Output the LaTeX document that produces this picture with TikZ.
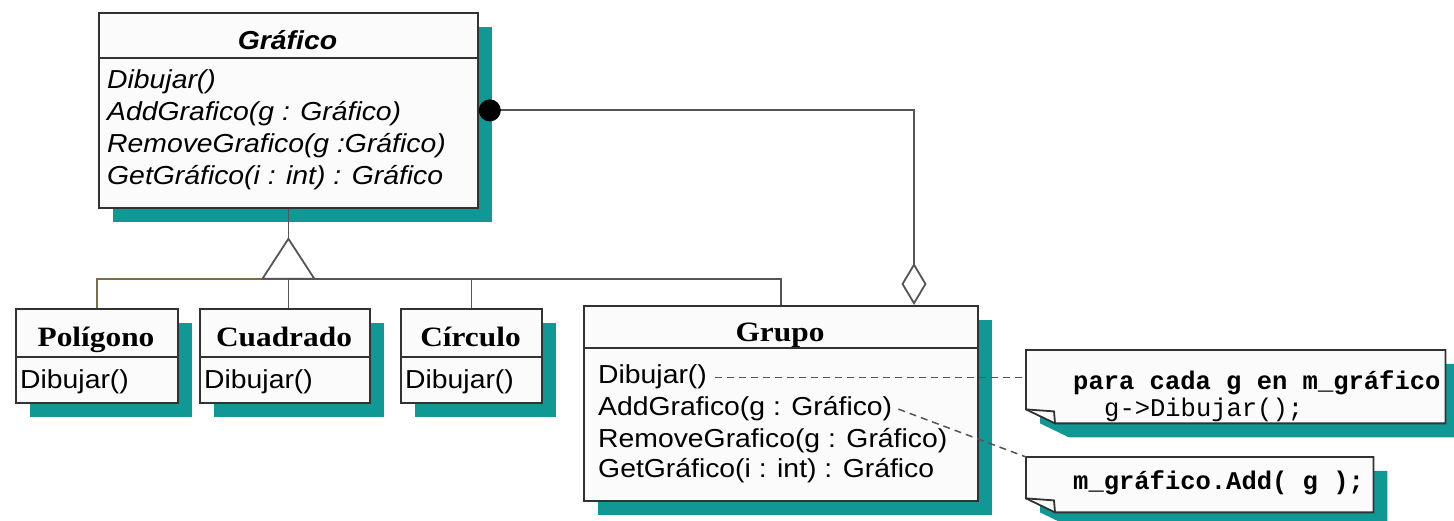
\documentclass[tikz,border=0pt]{standalone}
\usepackage{fontspec}
\usetikzlibrary{arrows.meta,calc,shadows}
\newfontfamily\uarial[FakeStretch=1.09]{Liberation Sans}
\newfontfamily\utimes[FakeStretch=1.12]{Liberation Serif}
\newfontfamily\ucour{Liberation Mono}
\definecolor{shteal}{RGB}{16,152,148}
\definecolor{edgec}{RGB}{50,50,50}
\definecolor{wirec}{RGB}{85,85,85}
\definecolor{olivec}{RGB}{128,108,64}
\definecolor{boxfill}{RGB}{251,251,251}
\begin{document}
\begin{tikzpicture}[x=1bp,y=1bp,
  cls/.style={draw=edgec, line width=1.8bp, fill=boxfill, anchor=north west, inner sep=0pt,
    general shadow={fill=shteal, shadow xshift=14bp, shadow yshift=-14bp}},
  divl/.style={draw=edgec, line width=1.8bp},
  notebox/.style={anchor=north west, inner sep=0pt},
  noteline/.style={draw=edgec, line width=1.8bp, line join=miter},
  ttl/.style={anchor=base, inner sep=0pt, font=\utimes\bfseries\fontsize{28bp}{32bp}\selectfont},
  attl/.style={anchor=base, inner sep=0pt, font=\uarial\bfseries\itshape\fontsize{26bp}{30bp}\selectfont},
  mth/.style={anchor=base west, inner sep=0pt, font=\uarial\fontsize{26bp}{30bp}\selectfont},
  amth/.style={anchor=base west, inner sep=0pt, font=\uarial\itshape\fontsize{26bp}{30bp}\selectfont},
  code/.style={anchor=base west, inner sep=0pt, font=\ucour\fontsize{25.5bp}{30bp}\selectfont},
  codeb/.style={anchor=base west, inner sep=0pt, font=\ucour\bfseries\fontsize{25.5bp}{30bp}\selectfont},
  wire/.style={draw=wirec, line width=1.8bp},
  dashwire/.style={draw=wirec, line width=1.5bp, dash pattern=on 7bp off 5bp}
]
\fill[white] (0,0) rectangle (1454,521);
\useasboundingbox (0,0) rectangle (1454,521);

% class boxes
\node[cls, minimum width=379bp, minimum height=195bp] (gr) at (98,509) {};
\node[cls, minimum width=394bp, minimum height=195bp] (grp) at (583,216) {};
\node[cls, minimum width=162bp, minimum height=94bp] (pol) at (15,213) {};
\node[cls, minimum width=170bp, minimum height=94bp] (cua) at (199,213) {};
\node[cls, minimum width=141bp, minimum height=94bp] (cir) at (400,213) {};

% dividers
\draw[divl] ($(gr.north west)+(0,-46)$) -- ($(gr.north east)+(0,-46)$);
\draw[divl] ($(grp.north west)+(0,-43)$) -- ($(grp.north east)+(0,-43)$);
\draw[divl] ($(pol.north west)+(0,-49)$) -- ($(pol.north east)+(0,-49)$);
\draw[divl] ($(cua.north west)+(0,-49)$) -- ($(cua.north east)+(0,-49)$);
\draw[divl] ($(cir.north west)+(0,-49)$) -- ($(cir.north east)+(0,-49)$);

% Grafico texts
\node[attl] (grT) at (287.5,471) {Gráfico};
\node[amth] (g1) at (107,432) {Dibujar()};
\node[amth] (g2) at (107,400) {AddGrafico(g : Gráfico)};
\node[amth] (g3) at (107,368) {RemoveGrafico(g :Gráfico)};
\node[amth] (g4) at (107,336) {GetGráfico(i : int) : Gráfico};

% small classes
\node[ttl] (polT) at (96,174) {Polígono};
\node[ttl] (cuaT) at (284,174) {Cuadrado};
\node[ttl] (cirT) at (470.5,174) {Círculo};
\node[mth] (polM) at (20,132) {Dibujar()};
\node[mth] (cuaM) at (204,132) {Dibujar()};
\node[mth] (cirM) at (405,132) {Dibujar()};

% Grupo
\node[ttl] (grpT) at (780,179) {Grupo};
\node[mth] (m1) at (598,137) {Dibujar()};
\node[mth] (m2) at (598,105) {AddGrafico(g : Gráfico)};
\node[mth] (m3) at (598,73) {RemoveGrafico(g : Gráfico)};
\node[mth] (m4) at (598,43) {GetGráfico(i : int) : Gráfico};

% notes
\node[notebox, minimum width=419bp, minimum height=73bp] (n1) at (1026,171) {};
\node[notebox, minimum width=347bp, minimum height=55bp] (n2) at (1026,64) {};
\fill[shteal] ($(n1.north west)+(14,-14)$) -- ($(n1.north east)+(14,-14)$) -- ($(n1.south east)+(14,-14)$) -- ($(n1.south west)+(43,-14)$) -- ($(n1.south west)+(14,0)$) -- cycle;
\draw[noteline, fill=boxfill] (n1.north west) -- (n1.north east) -- (n1.south east) -- ($(n1.south west)+(29,0)$) -- ($(n1.south west)+(0,14)$) -- cycle;
\draw[noteline] ($(n1.south west)+(0,14)$) -- ($(n1.south west)+(28,12)$) -- ($(n1.south west)+(29,0)$);
\fill[shteal] ($(n2.north west)+(14,-14)$) -- ($(n2.north east)+(14,-14)$) -- ($(n2.south east)+(14,-14)$) -- ($(n2.south west)+(43,-14)$) -- ($(n2.south west)+(14,0)$) -- cycle;
\draw[noteline, fill=boxfill] (n2.north west) -- (n2.north east) -- (n2.south east) -- ($(n2.south west)+(29,0)$) -- ($(n2.south west)+(0,14)$) -- cycle;
\draw[noteline] ($(n2.south west)+(0,14)$) -- ($(n2.south west)+(28,12)$) -- ($(n2.south west)+(29,0)$);
\node[codeb] (c1) at (1073,131) {para cada g en m\_gráfico};
\node[code] (c2) at (1104,104) {g->Dibujar();};
\node[codeb] (c3) at (1073,31) {m\_gráfico.Add( g );};

% aggregation
\draw[wire, {Circle[length=22bp, color=black, fill=black]}-{Diamond[open, fill=white, length=42bp, width=25bp]}] (gr.east) -| ($(grp.north west)+(331,0)$);

% generalization
\coordinate (apex) at ($(gr.south)+(0,-30)$);
\coordinate (bus) at ($(apex)+(0,-40)$);
\draw[wire] (gr.south) -- (apex);
\draw[wire, draw=olivec] (pol.north) |- (bus);
\draw[wire] (bus) -| (grp.north);
\draw[wire] (bus) -- (bus |- cua.north);
\draw[wire] (cir.north) -- (cir.north |- bus);
\draw[wire, fill=white, line join=miter] (apex) -- ($(bus)+(-26,0)$) -- ($(bus)+(26,0)$) -- cycle;

% note links
\draw[dashwire] ($(m1.east)+(8,0)$) -- (m1.east -| n1.west);
\draw[dashwire] ($(m2.east)+(6,0)$) -- (n2.north west);
\end{tikzpicture}
\end{document}
